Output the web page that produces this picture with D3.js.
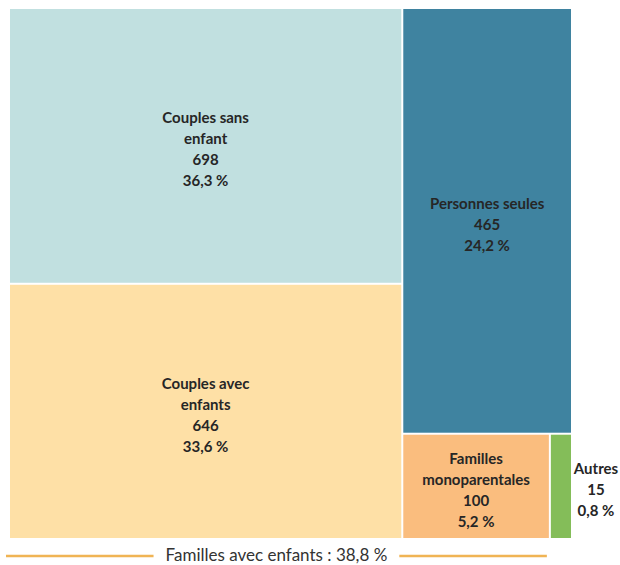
<!DOCTYPE html>
<html>
<head>
<meta charset="utf-8">
<script src="https://cdn.jsdelivr.net/npm/d3@7"></script>
<style>
  body { margin: 0; background: #fff; }
  text { font-family: Lato, "Open Sans", sans-serif; fill: #262626; }
</style>
</head>
<body>
<div id="chart"></div>
<script>
var svgWidth = 620;
var svgHeight = 565;

var margin = { top: 9, left: 10 };

// household types (number in thousands, share in %)
var categories = [["Couples sans", "enfant"], ["Couples avec", "enfants"], ["Personnes seules"], ["Familles", "monoparentales"], ["Autres"]];
var values = [698, 646, 465, 100, 15];
var shares = ["36,3 %", "33,6 %", "24,2 %", "5,2 %", "0,8 %"];
var colors = ["#c1e0e0", "#fee0a6", "#3f83a0", "#fabd7e", "#84bd59"];
var withChildren = [1, 3];
var footLabel = "Familles avec enfants : 38,8 %";

var svg = d3.select("#chart")
  .append("svg")
  .attr("width", svgWidth)
  .attr("height", svgHeight);

var chartGroup = svg.append("g")
  .attr("transform", `translate(${margin.left}, ${margin.top})`);

var data = categories.map(function(c, i) {
  return { name: c, value: values[i], share: shares[i], color: colors[i], idx: i };
});

var root = d3.hierarchy({ children: data })
  .sum(d => d.value || 0)
  .sort((a, b) => b.value - a.value);

d3.treemap()
  .tile(d3.treemapSquarify)
  .size([561, 529])
  .paddingInner(2)(root);

var leaves = root.leaves();

var cells = chartGroup.selectAll("g.cell")
  .data(leaves)
  .enter()
  .append("g")
  .attr("class", "cell");

cells.append("rect")
  .attr("x", d => d.x0)
  .attr("y", d => d.y0)
  .attr("width", d => d.x1 - d.x0)
  .attr("height", d => d.y1 - d.y0)
  .attr("fill", d => d.data.color);

var lineH = 21;

cells.each(function(d) {
  var lines = d.data.name.concat([String(d.data.value), d.data.share]);
  var small = (d.x1 - d.x0) < 60;
  var cx = small ? d.x1 + 25 : (d.x0 + d.x1) / 2;
  var cy = (d.y0 + d.y1) / 2 + 4;
  var t = d3.select(this).append("text")
    .attr("text-anchor", "middle")
    .attr("font-size", "15px")
    .attr("font-weight", "bold");
  lines.forEach(function(l, i) {
    t.append("tspan")
      .attr("x", cx)
      .attr("y", cy + (i - (lines.length - 1) / 2) * lineH + 5)
      .text(l);
  });
});

// bracket line under families with children
var fam = leaves.filter(d => withChildren.indexOf(d.data.idx) >= 0);
var fx0 = d3.min(fam, d => d.x0) - 4;
var fx1 = d3.max(fam, d => d.x1) - 2;
var fy = 547;

var foot = chartGroup.append("text")
  .attr("x", (fx0 + fx1) / 2)
  .attr("y", fy + 5)
  .attr("text-anchor", "middle")
  .attr("font-size", "17px")
  .style("fill", "#333")
  .text(footLabel);

var tw = foot.node().getComputedTextLength();

chartGroup.append("line")
  .attr("x1", fx0).attr("x2", (fx0 + fx1) / 2 - tw / 2 - 12)
  .attr("y1", fy).attr("y2", fy)
  .attr("stroke", "#f0b454").attr("stroke-width", 2.5);

chartGroup.append("line")
  .attr("x1", (fx0 + fx1) / 2 + tw / 2 + 12).attr("x2", fx1)
  .attr("y1", fy).attr("y2", fy)
  .attr("stroke", "#f0b454").attr("stroke-width", 2.5);
</script>
</body>
</html>
